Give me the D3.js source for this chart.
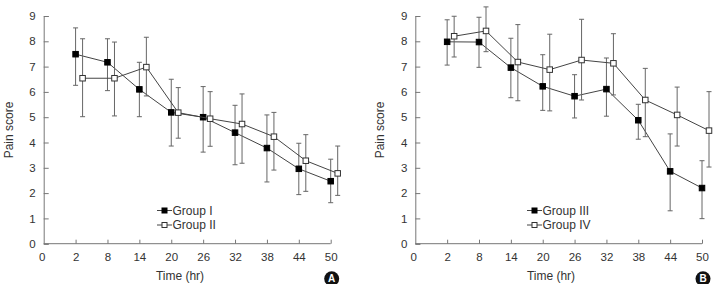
<!DOCTYPE html>
<html><head><meta charset="utf-8">
<script src="https://cdn.jsdelivr.net/npm/d3@7"></script>
<style>
body{margin:0;background:#fff;}
svg text{font-family:"Liberation Sans",Arial,sans-serif;fill:#333;}
</style></head>
<body><svg id="c" width="723" height="284"></svg>
<script>
// ---- data ----
const timeLabels = ["0","2","8","14","20","26","32","38","44","50"];
const dataTimes = ["2","8","14","20","26","32","38","44","50"];
const yTicks = [0,1,2,3,4,5,6,7,8,9];

const groupI_mean  = [7.49,7.17,6.10,5.19,5.00,4.39,3.78,2.96,2.47];
const groupI_upper = [8.53,8.10,7.17,6.50,6.21,5.47,5.09,3.97,3.34];
const groupI_lower = [6.26,6.05,5.02,3.86,3.62,3.12,2.44,1.94,1.62];

const groupII_mean  = [6.54,6.54,6.98,5.18,4.94,4.73,4.23,3.28,2.78];
const groupII_upper = [8.10,7.97,8.16,6.17,6.01,5.92,5.19,4.31,3.86];
const groupII_lower = [5.02,5.05,5.84,4.17,3.85,3.18,2.91,2.07,1.91];

const groupIII_mean  = [7.98,7.97,6.96,6.22,5.83,6.11,4.88,2.86,2.20];
const groupIII_upper = [8.85,8.95,8.12,7.47,6.68,7.34,5.51,4.34,3.28];
const groupIII_lower = [7.06,6.97,5.77,5.27,4.97,5.04,4.13,1.30,0.99];

const groupIV_mean  = [8.20,8.41,7.18,6.88,7.26,7.13,5.68,5.09,4.47];
const groupIV_upper = [8.99,9.36,8.66,8.28,8.87,8.30,6.93,6.19,6.01];
const groupIV_lower = [7.38,7.59,5.65,5.25,5.68,5.88,4.23,3.86,3.03];

const panels = [
  {left:43.7, right:330.7, letter:"A", xTitle:180, yTitleX:9,
   series:[{name:"Group I", mean:groupI_mean, up:groupI_upper, lo:groupI_lower, filled:true},
           {name:"Group II", mean:groupII_mean, up:groupII_upper, lo:groupII_lower, filled:false}],
   legendX:157},
  {left:415.3, right:702, letter:"B", xTitle:551, yTitleX:380,
   series:[{name:"Group III", mean:groupIII_mean, up:groupIII_upper, lo:groupIII_lower, filled:true},
           {name:"Group IV", mean:groupIV_mean, up:groupIV_upper, lo:groupIV_lower, filled:false}],
   legendX:527}
];

const svg = d3.select("#c");
const plotTop = 16, plotBottom = 243.7;
const y = d3.scaleLinear().domain([0,9]).range([plotBottom, plotTop]);
const axisColor = "#777";
const openOffset = 7;
const ms = 5.5;

panels.forEach(p => {
  const x = d3.scalePoint().domain(timeLabels).range([p.left, p.right]);
  const g = svg.append("g");

  // y axis
  const ya = g.append("g").attr("transform", `translate(${p.left},0)`)
    .call(d3.axisLeft(y).tickValues(yTicks).tickSize(-5).tickPadding(8).tickFormat(d3.format("d")));
  ya.select(".domain").attr("stroke", axisColor);
  ya.selectAll(".tick line").attr("stroke", axisColor);
  ya.selectAll("text").attr("font-size", 11.5).attr("fill","#333").attr("font-family","Liberation Sans, Arial, sans-serif");

  // x axis
  const xa = g.append("g").attr("transform", `translate(0,${plotBottom})`)
    .call(d3.axisBottom(x).tickSize(-4).tickPadding(9).tickSizeOuter(0));
  xa.select(".domain").attr("stroke", axisColor).attr("d", `M${p.left},0H${p.right}`);
  xa.selectAll(".tick line").attr("stroke", axisColor);
  xa.selectAll(".tick").filter(d => d === "0").select("line").remove();
  xa.selectAll("text").attr("font-size", 11.5).attr("fill","#333").attr("font-family","Liberation Sans, Arial, sans-serif");
  xa.selectAll(".tick").filter(d => d === "0").select("text").attr("dx", -2);

  // titles
  g.append("text").attr("x", p.xTitle).attr("y", 280).attr("text-anchor","middle")
    .attr("font-size", 12).text("Time (hr)");
  g.append("text").attr("transform", `translate(${p.yTitleX},130) rotate(-90)`)
    .attr("text-anchor","middle").attr("dy","0.35em").attr("font-size", 12).text("Pain score");

  // letter badge
  g.append("circle").attr("cx", p.right + 1).attr("cy", 278.7).attr("r", 7.5).attr("fill", "#111");
  g.append("text").attr("x", p.right + 1).attr("y", 278.7).attr("dy","0.36em").attr("text-anchor","middle")
    .attr("font-size", 10).attr("font-weight","bold").style("fill","#fff").text(p.letter);

  // series
  p.series.forEach(s => {
    const off = s.filled ? 0 : openOffset;
    const pts = dataTimes.map((t,i) => ({t, m:s.mean[i], u:s.up[i], l:s.lo[i]}));
    const sg = g.append("g");
    pts.forEach(d => {
      const cx = x(d.t) + off;
      sg.append("line").attr("x1",cx).attr("x2",cx).attr("y1",y(d.u)).attr("y2",y(d.l))
        .attr("stroke","#666").attr("stroke-width",1);
      [d.u, d.l].forEach(v => sg.append("line").attr("x1",cx-2.5).attr("x2",cx+2.5)
        .attr("y1",y(v)).attr("y2",y(v)).attr("stroke","#666").attr("stroke-width",1));
    });
    sg.append("path").datum(pts)
      .attr("d", d3.line().x(d => x(d.t)+off).y(d => y(d.m)))
      .attr("fill","none").attr("stroke","#444").attr("stroke-width",1);
    sg.selectAll("rect.m").data(pts).enter().append("rect")
      .attr("x", d => x(d.t)+off-ms/2).attr("y", d => y(d.m)-ms/2)
      .attr("width", ms).attr("height", ms)
      .attr("fill", s.filled ? "#000" : "#fff")
      .attr("stroke", s.filled ? "#000" : "#333").attr("stroke-width", 1);
  });

  // legend
  p.series.forEach((s, i) => {
    const ly = 210.5 + i*14.5;
    g.append("line").attr("x1", p.legendX).attr("x2", p.legendX+15).attr("y1", ly).attr("y2", ly)
      .attr("stroke","#444").attr("stroke-width",1);
    g.append("rect").attr("x", p.legendX+7.5-2.5).attr("y", ly-2.5).attr("width",5).attr("height",5)
      .attr("fill", s.filled ? "#000" : "#fff").attr("stroke", s.filled ? "#000" : "#333");
    g.append("text").attr("x", p.legendX+15.5).attr("y", ly).attr("dy","0.35em")
      .attr("font-size", 12).text(s.name);
  });
});
</script></body></html>
